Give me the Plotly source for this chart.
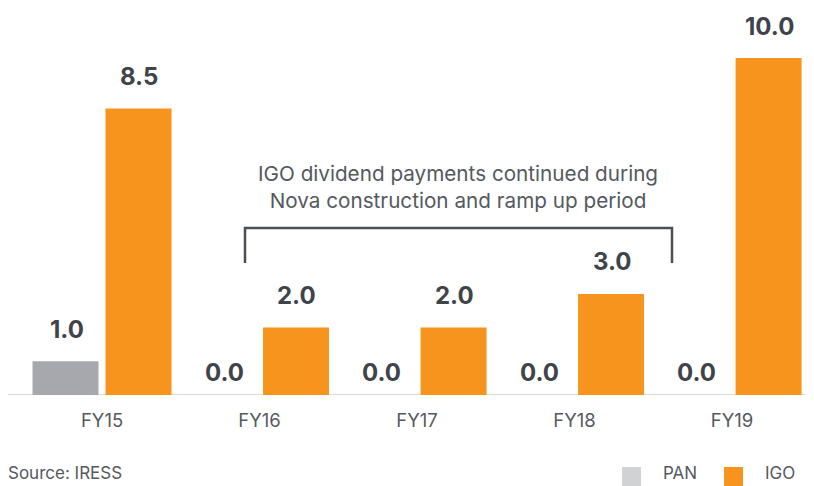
import plotly.graph_objects as go

categories = ["FY15", "FY16", "FY17", "FY18", "FY19"]
pan_values = [1.0, 0.0, 0.0, 0.0, 0.0]
igo_values = [8.5, 2.0, 2.0, 3.0, 10.0]
series_names = ["PAN", "IGO"]
note_text = "IGO dividend payments continued during<br>Nova construction and ramp up period"
source_text = "Source: IRESS"

GRAY_BAR = "#a6a8ad"
GRAY_LEG = "#d1d2d4"
ORANGE = "#f7941d"
DARK = "#3f434a"
TEXT = "#55595f"
FONT = "Inter, Roboto, sans-serif"

# page-pixel helpers (plot area spans page x 8..814, y 24..395)
def px(x):
    return (x - 8) / 806.0

def py(y):
    return (395 - y) / 371.0

fig = go.Figure()
fig.add_trace(go.Bar(x=categories, y=pan_values, name=series_names[0],
                     marker=dict(color=GRAY_BAR, line=dict(width=0)),
                     showlegend=False, hoverinfo="skip"))
fig.add_trace(go.Bar(x=categories, y=igo_values, name=series_names[1],
                     marker=dict(color=ORANGE, line=dict(width=0)),
                     showlegend=False, hoverinfo="skip"))

annotations = []
for i, cat in enumerate(categories):
    for vals, dx in ((pan_values, -0.225), (igo_values, 0.235)):
        v = vals[i]
        annotations.append(dict(
            x=i + dx, y=v, xref="x", yref="y", text=f"<b>{v:.1f}</b>",
            showarrow=False, yanchor="middle", xanchor="center",
            yshift=(23 if v == 0 else 32),
            font=dict(family=FONT, size=24, color=DARK)))

annotations.append(dict(
    x=px(457.5), y=py(187), xref="paper", yref="paper",
    text=note_text, showarrow=False, xanchor="center", yanchor="middle", align="center",
    font=dict(family=FONT, size=20.7, color=TEXT)))

annotations.append(dict(
    x=px(8), y=py(485), xref="paper", yref="paper",
    text=source_text, showarrow=False, xanchor="left", yanchor="bottom", xshift=-2,
    font=dict(family=FONT, size=17, color=TEXT)))

# legend (manual)
shapes = []
leg_items = [(series_names[0], GRAY_LEG, 622, 663), (series_names[1], ORANGE, 724, 765)]
for name, col, sx, tx in leg_items:
    shapes.append(dict(type="rect", xref="paper", yref="paper",
                       x0=px(sx), x1=px(sx + 19), y0=py(486), y1=py(467),
                       fillcolor=col, line=dict(width=0)))
    annotations.append(dict(x=px(tx), y=py(485), xref="paper", yref="paper",
                            text=name, showarrow=False, xanchor="left", yanchor="bottom",
                            xshift=-2,
                            font=dict(family=FONT, size=17, color=TEXT)))

# bracket
shapes.append(dict(type="path", xref="paper", yref="paper",
                   path=(f"M {px(245)},{py(263)} L {px(245)},{py(228)} "
                         f"L {px(672)},{py(228)} L {px(672)},{py(263)}"),
                   line=dict(color="#4a4e55", width=2.5)))

# axis baseline
shapes.append(dict(type="line", xref="paper", yref="y", x0=0, x1=1, y0=0, y1=0,
                   line=dict(color="#d9dadc", width=2), layer="below"))

fig.update_layout(
    width=814, height=486,
    margin=dict(l=0, r=8, t=16, b=99),
    paper_bgcolor="white", plot_bgcolor="white",
    barmode="group", bargap=0.073, bargroupgap=0.096,
    xaxis=dict(range=[-0.597, 4.52], showgrid=False, zeroline=False, showline=False,
               ticks="", ticklabelstandoff=12,
               tickfont=dict(family=FONT, size=18.5, color=TEXT)),
    yaxis=dict(range=[0, 11.01], showgrid=False, zeroline=False, showline=False,
               showticklabels=False),
    annotations=annotations, shapes=shapes,
    showlegend=False,
)

fig.write_html("out.html")
